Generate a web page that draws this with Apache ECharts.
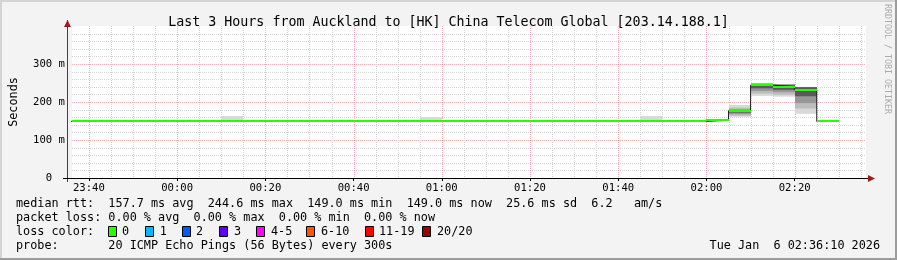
<!DOCTYPE html>
<html><head><meta charset="utf-8">
<script src="https://cdn.jsdelivr.net/npm/echarts@6/dist/echarts.min.js"></script>
<style>html,body{margin:0;padding:0;background:#f3f3f3}#c{width:897px;height:260px}</style>
</head><body><div id="c"></div>
<script>
// ---- data ----
const segStarts = ['23:35','23:40','23:45','23:50','23:55','00:00','00:05','00:10','00:15','00:20',
  '00:25','00:30','00:35','00:40','00:45','00:50','00:55','01:00','01:05','01:10',
  '01:15','01:20','01:25','01:30','01:35','01:40','01:45','01:50','01:55','02:00',
  '02:05','02:10','02:15','02:20','02:25'];
const medianMs = [149,149,149,149,149,149,149,149,149,149,
  149,149,149,149,149,149,149,149,149,149,
  149,149,149,149,149,149,149,149,149,152,
  177,244.6,240,232,149];
const smokeLo = [148,148,148,148,148,148,148,148,148,148,
  148,148,148,148,148,148,148,148,148,148,
  148,148,148,148,148,148,148,148,148,150,
  161,216,214,169,148];
const smokeHi = [153.5,153.5,150,150,153.5,153.5,150,163,150,150,
  150,150,153.5,150,150,153.5,160,150,150,150,
  150,150,150,150,150,150,163,150,150,153,
  192,249,246.5,240,150];
const band2Lo = {30:164, 31:222, 32:219, 33:183};
const band2Hi = {30:185, 31:248.5, 32:246, 33:239.5};
const band3Lo = {30:168, 31:229, 32:226, 33:197};
const band3Hi = {30:181, 31:248, 32:245.5, 33:239};
const band4Lo = {30:172, 31:236, 32:232, 33:215};
const band4Hi = {30:179, 31:247.8, 32:245.5, 33:239};
const xTickLabels = ['23:40','00:00','00:20','00:40','01:00','01:20','01:40','02:00','02:20'];
const yTickValues = [0,100,200,300];
const yTickLabels = ['0  ','100 m','200 m','300 m'];
const lossLabels = ['0','1','2','3','4-5','6-10','11-19','20/20'];
const lossColors = ['#26ff00','#00b8ff','#0059ff','#5e00ff','#ff00ff','#ff5500','#ff0000','#a10000'];
const viewStart = '23:36:10', viewEnd = '02:36:10';
const stepMin = 5;

// ---- helpers ----
function toMin(s){const p=s.split(':').map(Number);let m=p[0]*60+p[1]+(p[2]||0)/60;if(p[0]>=12)m-=1440;return m;}
function fmt(m){let t=((m%1440)+1440)%1440;const h=Math.floor(t/60),mm=Math.round(t%60);return String(h).padStart(2,'0')+':'+String(mm).padStart(2,'0');}
const xMin=toMin(viewStart), xMax=toMin(viewEnd);
const FONT='DejaVu Sans Mono';

function bandSeries(lo,hi,color,z){
  const data=[];
  segStarts.forEach((s,i)=>{const l=lo[i];const h=hi[i];
    if(l!=null&&h!=null)data.push([toMin(s),l,h]);});
  return {type:'custom',z,silent:true,data,
    renderItem(params,api){
      const x0=api.value(0);const a=api.coord([x0,api.value(2)]);const b=api.coord([x0+stepMin,api.value(1)]);
      const cs=params.coordSys;const L=Math.max(Math.round(a[0]),cs.x),R=Math.min(Math.round(b[0]),cs.x+cs.width);
      if(R<=L)return null;
      return {type:'rect',shape:{x:L,y:a[1],width:R-L,height:b[1]-a[1]},style:{fill:color}};
    }};
}

const vGrid=[];for(let m=-20;m<=xMax;m+=5){if(m>xMin)vGrid.push([m,m%20===0?1:0]);}
const hGrid=[];for(let v=20;v<400;v+=20){hGrid.push([0,v,v%100===0?1:0]);}
const MAJ='rgba(240,120,120,0.6)', MIN='#d6d6d6';

const stepData=segStarts.map((s,i)=>[toMin(s),medianMs[i]]);
stepData.push([toMin(segStarts[segStarts.length-1])+stepMin,medianMs[medianMs.length-1]]);

const chart=echarts.init(document.getElementById('c'),null,{renderer:'canvas'});
const graphics=[];
// borders
graphics.push({type:'line',shape:{x1:0,y1:1,x2:897,y2:1},style:{stroke:'#d4d4d4',lineWidth:2},silent:true});
graphics.push({type:'line',shape:{x1:1,y1:0,x2:1,y2:260},style:{stroke:'#d4d4d4',lineWidth:2},silent:true});
graphics.push({type:'line',shape:{x1:0,y1:259,x2:897,y2:259},style:{stroke:'#9c9c9c',lineWidth:2},silent:true});
graphics.push({type:'line',shape:{x1:896,y1:0,x2:896,y2:260},style:{stroke:'#9c9c9c',lineWidth:2},silent:true});
// axis extensions + arrows
graphics.push({type:'line',shape:{x1:67.5,y1:20,x2:67.5,y2:182},style:{stroke:'#404040',lineWidth:1},silent:true,z:50});
graphics.push({type:'line',shape:{x1:63,y1:178.5,x2:869,y2:178.5},style:{stroke:'#000',lineWidth:1},silent:true,z:50});
graphics.push({type:'polygon',shape:{points:[[64,27],[71,27],[67.5,20]]},style:{fill:'#9b1c1c'},silent:true,z:51});
graphics.push({type:'polygon',shape:{points:[[868,175],[868,182],[875,178.5]]},style:{fill:'#9b1c1c'},silent:true,z:51});
// rrdtool credit
graphics.push({type:'text',x:887,y:4,rotation:-Math.PI/2,style:{text:'RRDTOOL / TOBI OETIKER',font:'8.3px "'+FONT+'"',fill:'#ababab',align:'left',verticalAlign:'middle'},silent:true});
// legend lines
const LF='11.8px "'+FONT+'"';
const legendLines=[
  ['median rtt:  157.7 ms avg  244.6 ms max  149.0 ms min  149.0 ms now  25.6 ms sd  6.2   am/s',203.5],
  ['packet loss: 0.00 % avg  0.00 % max  0.00 % min  0.00 % now',218.3],
  ['loss color:',231.8],
  ['probe:       20 ICMP Echo Pings (56 Bytes) every 300s',246]
];
legendLines.forEach(([t,y])=>graphics.push({type:'text',x:16,y,style:{text:t,font:LF,fill:'#000',verticalAlign:'middle'},silent:true}));
graphics.push({type:'text',x:880,y:246,style:{text:'Tue Jan  6 02:36:10 2026',font:LF,fill:'#000',align:'right',verticalAlign:'middle'},silent:true});
const boxX=[108,145,182,219,256,306,365,422];
const labX=[122,159.7,196,234,271,321,379,437];
lossLabels.forEach((l,i)=>{
  graphics.push({type:'rect',shape:{x:boxX[i]+0.5,y:226.5,width:8,height:10},style:{fill:lossColors[i],stroke:'#000',lineWidth:1},silent:true});
  graphics.push({type:'text',x:labX[i],y:231.8,style:{text:l,font:LF,fill:'#000',verticalAlign:'middle'},silent:true});
});

chart.setOption({
  backgroundColor:'#f3f3f3',
  animation:false,
  title:{text:'Last 3 Hours from Auckland to [HK] China Telecom Global [203.14.188.1]',left:'center',top:11,
    textStyle:{fontFamily:FONT,fontSize:13.3,fontWeight:'normal',color:'#000'}},
  grid:{left:67,top:26,width:799,height:152,show:true,backgroundColor:'#fff',borderWidth:0},
  xAxis:{type:'value',min:xMin,max:xMax,
    axisLine:{show:false},splitLine:{show:false},
    axisTick:{show:true,customValues:xTickLabels.map(toMin),length:3,lineStyle:{color:'#000'}},
    axisLabel:{customValues:xTickLabels.map(toMin),formatter:v=>fmt(v),fontFamily:FONT,fontSize:10.6,color:'#000',margin:5,showMinLabel:true,showMaxLabel:true}},
  yAxis:{type:'value',min:0,max:400,interval:100,
    name:'Seconds',nameLocation:'middle',nameGap:52,nameRotate:90,
    nameTextStyle:{fontFamily:FONT,fontSize:11.8,color:'#000'},
    axisLine:{show:false},axisTick:{show:false},splitLine:{show:false},
    axisLabel:{formatter:v=>{const i=yTickValues.indexOf(v);return i<0?'':yTickLabels[i];},fontFamily:FONT,fontSize:10.6,color:'#000',margin:7}},
  graphic:graphics,
  series:[
    {type:'custom',z:1,silent:true,data:hGrid,renderItem(params,api){
      const cs=params.coordSys;const y=Math.round(api.coord([xMin,api.value(1)])[1])+0.5;
      return {type:'line',shape:{x1:cs.x,y1:y,x2:cs.x+cs.width,y2:y},style:{stroke:api.value(2)?MAJ:MIN,lineWidth:1,lineDash:[1,1]}};}},
    {type:'custom',z:1,silent:true,data:vGrid,renderItem(params,api){
      const cs=params.coordSys;const x=Math.round(api.coord([api.value(0),0])[0])+0.5;
      return {type:'line',shape:{x1:x,y1:cs.y,x2:x,y2:cs.y+cs.height},style:{stroke:api.value(1)?MAJ:MIN,lineWidth:1,lineDash:[1,1]}};}},
    bandSeries(smokeLo,smokeHi,'#d8d8d8',3),
    bandSeries(band2Lo,band2Hi,'#bcbcbc',4),
    bandSeries(band3Lo,band3Hi,'#979797',5),
    bandSeries(band4Lo,band4Hi,'#5a5a5a',6),
    {type:'line',z:7,step:'end',data:stepData,symbol:'none',silent:true,lineStyle:{color:'#202020',width:1}},
    {type:'custom',z:8,silent:true,data:segStarts.map((s,i)=>[toMin(s),medianMs[i]]),renderItem(params,api){
      const x0=api.value(0);const a=api.coord([x0,api.value(1)]);const b=api.coord([x0+stepMin,api.value(1)]);
      const cs=params.coordSys;const L=Math.max(Math.round(a[0]),cs.x),R=Math.min(Math.round(b[0]),cs.x+cs.width);
      if(R<=L)return null;
      return {type:'rect',shape:{x:L,y:Math.round(a[1])-1,width:R-L,height:2},style:{fill:lossColors[0]}};}}
  ]
});
</script></body></html>
